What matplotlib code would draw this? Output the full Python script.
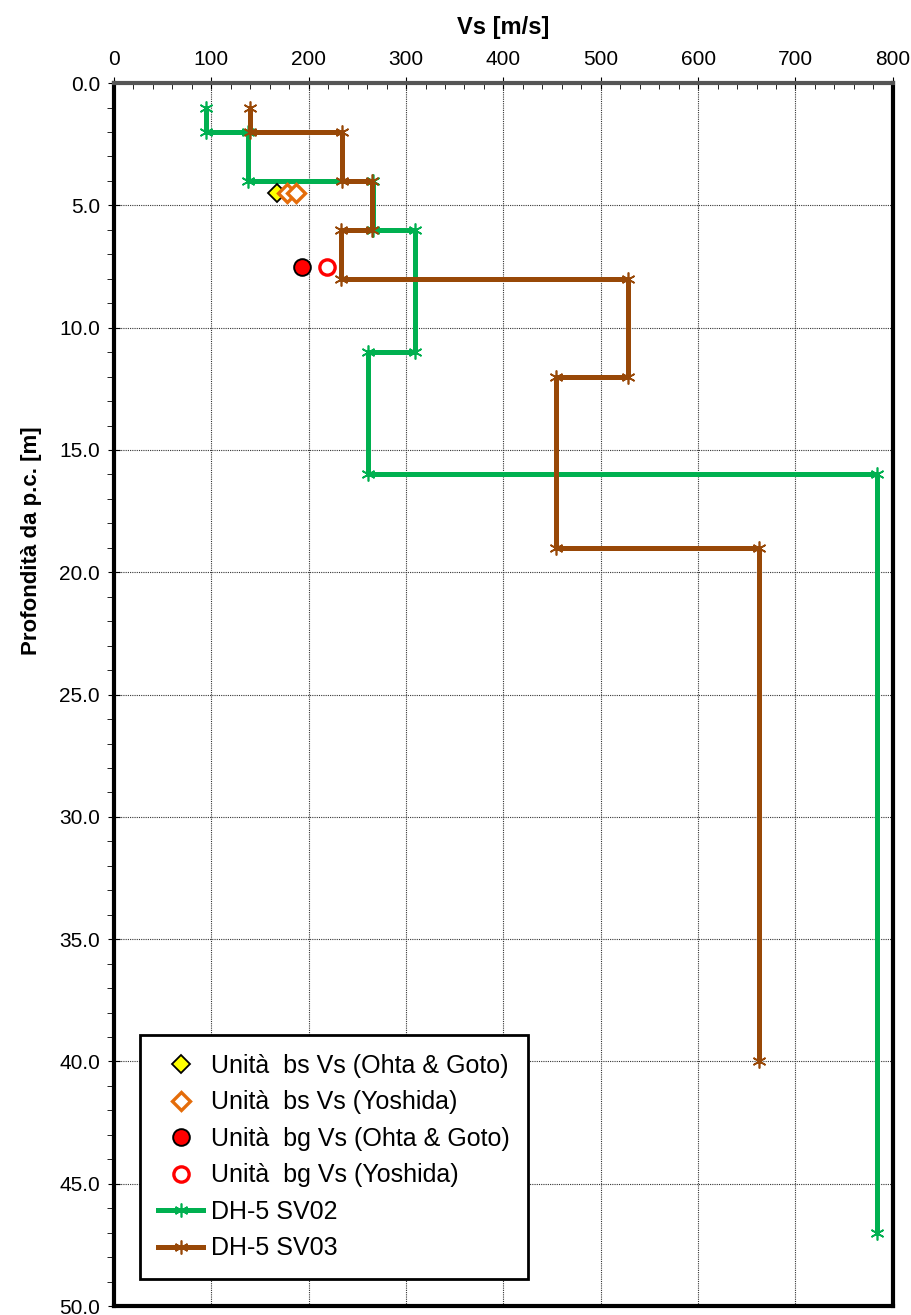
import numpy as np
import matplotlib.pyplot as plt
from matplotlib.ticker import MultipleLocator, FormatStrFormatter

plt.rcParams['font.family'] = ['Liberation Sans', 'DejaVu Sans']

# profili Vs da down-hole (velocita', profondita')
sv02_vs = [94, 94, 138, 138, 266, 266, 309, 309, 261, 261, 784, 784]
sv02_z = [1, 2, 2, 4, 4, 6, 6, 11, 11, 16, 16, 47]
sv03_vs = [140, 140, 234, 234, 265, 265, 233, 233, 528, 528, 454, 454, 663, 663]
sv03_z = [1, 2, 2, 4, 4, 6, 6, 8, 8, 12, 12, 19, 19, 40]

# stime da correlazioni empiriche
bs_ohta_vs = [167]
bs_ohta_z = [4.5]
bs_yosh_vs = [178, 187]
bs_yosh_z = [4.5, 4.5]
bg_ohta_vs = [193]
bg_ohta_z = [7.5]
bg_yosh_vs = [219]
bg_yosh_z = [7.5]

fig = plt.figure(figsize=(9.12, 13.15), dpi=100)
ax = fig.add_axes([0.125, 0.0068, 0.854, 0.930])

ax.plot(bs_ohta_vs, bs_ohta_z, ls='none', marker='D', ms=9, mfc='#FFFF00', mec='black', mew=1.3,
        label='Unità  bs Vs (Ohta & Goto)', zorder=4)
ax.plot(bs_yosh_vs, bs_yosh_z, ls='none', marker='D', ms=9, mfc='white', mec='#E46C0A', mew=2.4,
        label='Unità  bs Vs (Yoshida)', zorder=4)
ax.plot(bg_ohta_vs, bg_ohta_z, ls='none', marker='o', ms=12, mfc='#FF0000', mec='black', mew=1.4,
        label='Unità  bg Vs (Ohta & Goto)', zorder=4)
ax.plot(bg_yosh_vs, bg_yosh_z, ls='none', marker='o', ms=11, mfc='white', mec='#FF0000', mew=2.4,
        label='Unità  bg Vs (Yoshida)', zorder=4)
ax.plot(sv02_vs, sv02_z, color='#00B050', lw=3.6, marker=(6, 2, 0), ms=10, mew=1.2,
        label='DH-5 SV02', zorder=3)
ax.plot(sv03_vs, sv03_z, color='#984807', lw=3.6, marker=(6, 2, 0), ms=10, mew=1.2,
        label='DH-5 SV03', zorder=3)

ax.set_xlim(0, 800)
ax.set_ylim(50, 0)
ax.xaxis.tick_top()
ax.xaxis.set_label_position('top')
ax.xaxis.set_major_locator(MultipleLocator(100))
ax.xaxis.set_minor_locator(MultipleLocator(20))
ax.yaxis.set_major_locator(MultipleLocator(5))
ax.yaxis.set_minor_locator(MultipleLocator(1))
ax.yaxis.set_major_formatter(FormatStrFormatter('%.1f'))

ax.tick_params(axis='x', which='major', direction='inout', length=8, labelsize=15, pad=6)
ax.tick_params(axis='x', which='minor', direction='in', length=4)
ax.tick_params(axis='y', which='major', direction='inout', length=8, labelsize=15, pad=6)
ax.tick_params(axis='y', which='minor', direction='out', length=5)

ax.grid(True, which='major', color='#333333', ls=(0, (1, 1)), lw=0.8)
ax.set_axisbelow(True)

for side in ['left', 'right', 'bottom']:
    ax.spines[side].set_linewidth(3)
    ax.spines[side].set_color('black')
ax.spines['top'].set_linewidth(3)
ax.spines['top'].set_color('#555555')

ax.set_xlabel('Vs [m/s]', fontsize=17, fontweight='bold', labelpad=12)
ax.set_ylabel('Profondità da p.c. [m]', fontsize=16, fontweight='bold')
ax.yaxis.set_label_coords(-0.093, 0.626)

leg = ax.legend(loc='lower left', bbox_to_anchor=(0.033, 0.022), fontsize=18, frameon=True,
                fancybox=False, handlelength=1.8, handletextpad=0.3, labelspacing=0.5,
                borderpad=0.75, borderaxespad=0)
leg.get_frame().set_edgecolor('black')
leg.get_frame().set_linewidth(2)
leg.get_frame().set_alpha(1)

fig.savefig('out.png', dpi=100)
